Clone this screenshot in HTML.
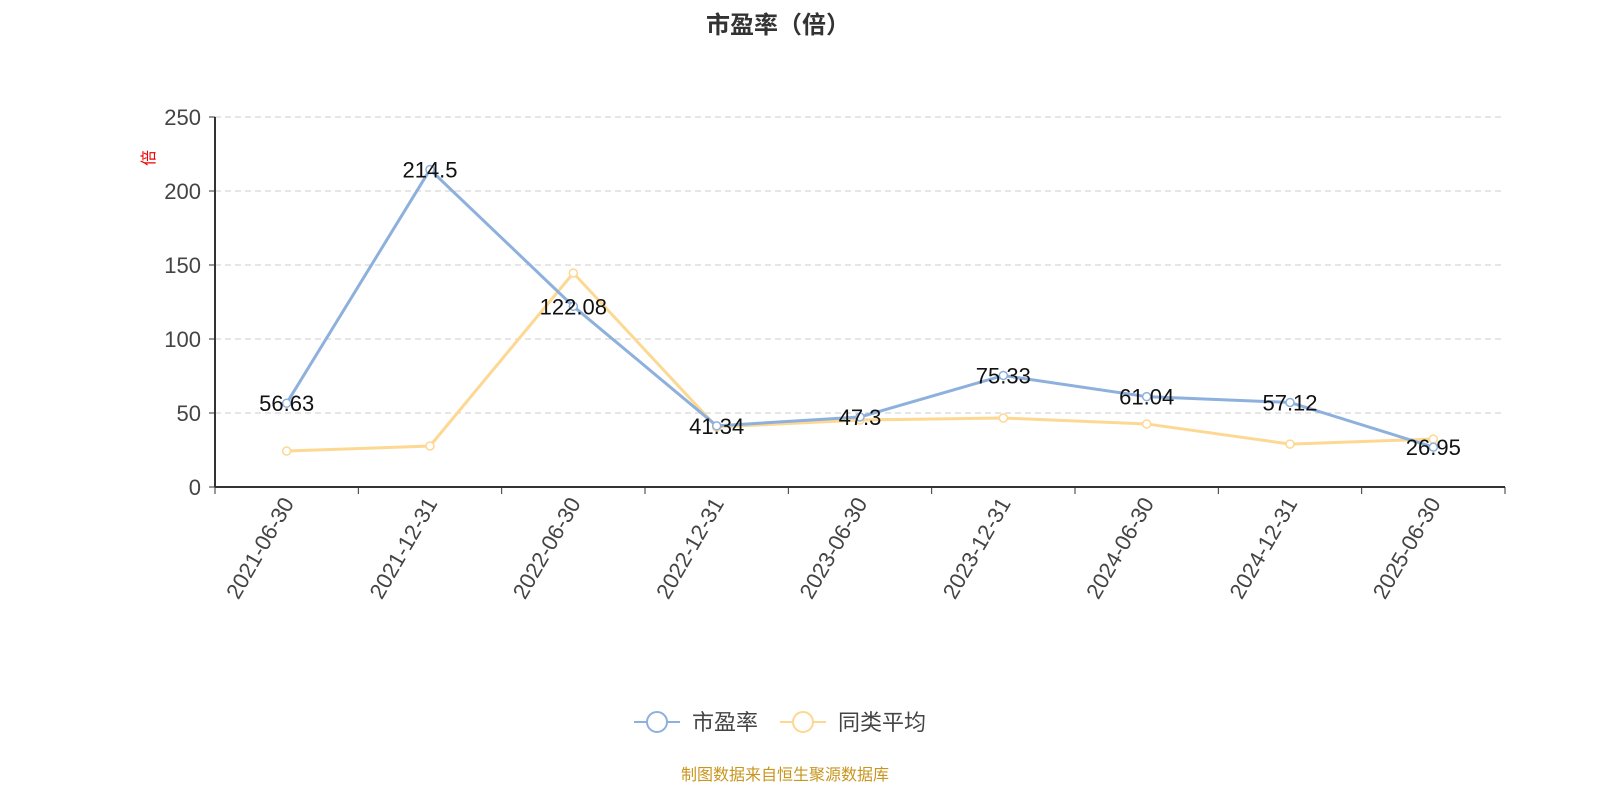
<!DOCTYPE html>
<html><head><meta charset="utf-8"><style>
body{margin:0;background:#fff;width:1600px;height:800px;overflow:hidden;font-family:"Liberation Sans","Noto Sans CJK SC",sans-serif}
</style></head><body>
<svg id="chart" width="1600" height="800" xmlns="http://www.w3.org/2000/svg" font-family="Liberation Sans, Noto Sans CJK SC, sans-serif">
<text x="778" y="33" text-anchor="middle" font-size="24" font-weight="bold" fill="#333">市盈率（倍）</text>
<text transform="translate(154,158) rotate(-90)" text-anchor="middle" font-size="16" fill="#e00">倍</text>
<g id="grid"></g><g id="axes"></g><g id="series"></g>
<g>
<g>
<line x1="634" y1="722" x2="680" y2="722" stroke="#8eb0dc" stroke-width="2"/><circle cx="657" cy="722" r="10" fill="#fff" stroke="#8eb0dc" stroke-width="2"/>
<text x="692" y="730" font-size="22" fill="#444">市盈率</text></g>
<g>
<line x1="780" y1="722" x2="826" y2="722" stroke="#fdd892" stroke-width="2"/><circle cx="803" cy="722" r="10" fill="#fff" stroke="#fdd892" stroke-width="2"/>
<text x="838" y="730" font-size="22" fill="#444">同类平均</text></g>
</g>
<text x="785" y="780" text-anchor="middle" font-size="16" fill="#c8961e">制图数据来自恒生聚源数据库</text>
</svg>
<script>
const categories=["2021-06-30","2021-12-31","2022-06-30","2022-12-31","2023-06-30","2023-12-31","2024-06-30","2024-12-31","2025-06-30"];
const peValues=[56.63,214.5,122.08,41.34,47.3,75.33,61.04,57.12,26.95];
const peerValues=[24.3,27.7,144.6,40.5,45.3,46.6,42.6,29,32.4];
const yTicks=[0,50,100,150,200,250];
const NS="http://www.w3.org/2000/svg";
const X0=215,X1=1505,Y0=487,Y1=117,YMAX=250;
const band=(X1-X0)/categories.length;
const xs=i=>X0+band*(i+0.5);
const ys=v=>Y0-(v/YMAX)*(Y0-Y1);
function mk(tag,attrs,parent){const e=document.createElementNS(NS,tag);for(const k in attrs)e.setAttribute(k,attrs[k]);parent.appendChild(e);return e;}
const grid=document.getElementById('grid'),axes=document.getElementById('axes'),series=document.getElementById('series');
yTicks.forEach(t=>{
 const y=ys(t);
 if(t>0){const g=mk('line',{x1:X0,x2:X1,y1:y,y2:y,stroke:'#ccc','stroke-dasharray':'6,4'},grid);
 
 }
 const tk=mk('line',{x1:X0-6,x2:X0,y1:y,y2:y,stroke:'#333'},axes);
 
 
 const lb=mk('text',{x:X0-14,y:y+8,'text-anchor':'end','font-size':'22',fill:'#444'},axes);
 lb.textContent=t;
 
 
});
const ya=mk('line',{x1:X0,x2:X0,y1:Y1,y2:Y0,stroke:'#333','stroke-width':2},axes);


const xa=mk('line',{x1:X0,x2:X1,y1:Y0,y2:Y0,stroke:'#333','stroke-width':2},axes);


for(let i=0;i<=categories.length;i++){
 const x=X0+band*i;
 const tk=mk('line',{x1:x,x2:x,y1:Y0,y2:Y0+7,stroke:'#333'},axes);
 
 
}
categories.forEach((c,i)=>{
 const x=xs(i);
 const lb=mk('text',{transform:`translate(${x+8},${Y0+16}) rotate(-60)`,'text-anchor':'end','font-size':'22',fill:'#444'},axes);
 lb.textContent=c;
 
 
});
function drawSeries(vals,color,name,labels){
 const pts=vals.map((v,i)=>xs(i)+','+ys(v)).join(' ');
 const pl=mk('polyline',{points:pts,fill:'none',stroke:color,'stroke-width':3},series);
 
 
 vals.forEach((v,i)=>{
  const c=mk('circle',{cx:xs(i),cy:ys(v),r:4,fill:'#fff',stroke:color,'stroke-width':1.5},series);
  
  
 });
}
drawSeries(peerValues,'#fdd892','peer-average',false);
drawSeries(peValues,'#8eb0dc','pe-ratio',true);
peValues.forEach((v,i)=>{
 const t=mk('text',{x:xs(i),y:ys(v)+8,'text-anchor':'middle','font-size':'22',fill:'#111'},series);
 t.textContent=v;
 
 
});
</script>
</body></html>
